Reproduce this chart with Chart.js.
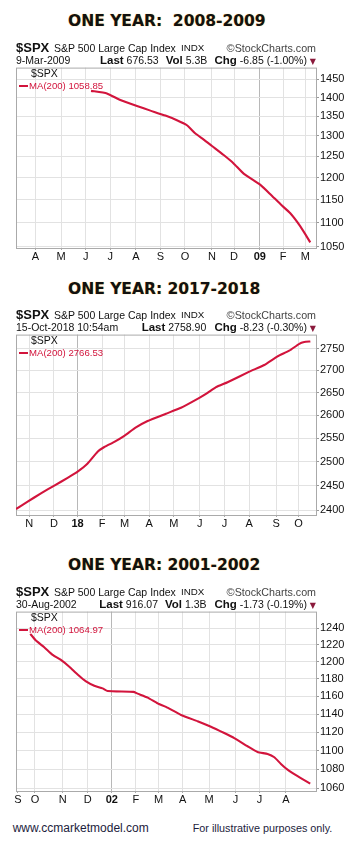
<!DOCTYPE html>
<html>
<head>
<meta charset="utf-8">
<script src="https://cdn.jsdelivr.net/npm/chart.js@4.4.1/dist/chart.umd.min.js"></script>
<style>
  html, body { margin:0; padding:0; background:#fff; }
  body { width:356px; height:849px; position:relative; overflow:hidden;
         font-family:"Liberation Sans", Arial, sans-serif; color:#111; }
  canvas { position:absolute; left:0; }
  .title { font-family:"DejaVu Sans", sans-serif; font-weight:bold; color:#111;
           text-shadow: 0 0 1px rgba(255,165,0,0.75); }
</style>
</head>
<body>
<canvas id="c1" width="356" height="205" style="top:60px"></canvas>
<canvas id="c2" width="356" height="205" style="top:327px"></canvas>
<canvas id="c3" width="356" height="204" style="top:604px"></canvas>
<script>
// ---------------- DATA ----------------
// Panel 1: 2008-2009 (x = trading days from 1-Apr-2008)
const p1Title = "ONE YEAR:  2008-2009";
const p1Date = "9-Mar-2009";
const p1Last = "676.53";
const p1Vol = "5.3B";
const p1Chg = "-6.85 (-1.00%)";
const p1Legend = "MA(200) 1058.85";
const p1MonthDays = [0, 22, 43, 64, 86, 107, 128, 151, 170, 192, 212, 231];
const p1MonthLabels = ["A", "M", "J", "J", "A", "S", "O", "N", "D", "09", "F", "M"];
const p1YTicks = [1050, 1100, 1150, 1200, 1250, 1300, 1350, 1400, 1450];
const p1Days = [47.6, 61.2, 72.7, 86.9, 98.4, 111.2, 121.1, 129.7, 136.9, 144, 151.1, 161.1, 169.6, 178.2, 192.5, 201, 209.6, 218.1, 226.7, 235.2];
const p1MA200 = [1418, 1411, 1393, 1377, 1365, 1352, 1340, 1327, 1306, 1291, 1275, 1253, 1233, 1209, 1183, 1162, 1140, 1120, 1092, 1059];

// Panel 2: 2017-2018 (x = trading days from 1-Nov-2017)
const p2Title = "ONE YEAR: 2017-2018";
const p2Date = "15-Oct-2018 10:54am";
const p2Last = "2758.90";
const p2Chg = "-8.23 (-0.30%)";
const p2Legend = "MA(200) 2766.53";
const p2MonthDays = [0, 21, 41, 62, 81, 102, 123, 145, 166, 187, 210, 229];
const p2MonthLabels = ["N", "D", "18", "F", "M", "A", "M", "J", "J", "A", "S", "O"];
const p2YTicks = [2400, 2450, 2500, 2550, 2600, 2650, 2700, 2750];
const p2Days = [-11.3, -1.4, 9.9, 21.3, 32.6, 41.1, 49.6, 58.1, 63.8, 72.3, 80.8, 90.7, 100.6, 116.2, 129, 144.6, 151.6, 158.8, 168.6, 187.1, 199.8, 211.1, 221.1, 229.6, 233.8, 239];
const p2MA200 = [2402, 2417, 2434, 2450, 2466, 2479, 2496, 2521, 2531, 2542, 2555, 2573, 2587, 2603, 2616, 2638, 2649, 2662, 2673, 2697, 2712, 2732, 2745, 2761, 2765, 2766.5];

// Panel 3: 2001-2002 (x = trading days from 1-Oct-2001)
const p3Title = "ONE YEAR: 2001-2002";
const p3Date = "30-Aug-2002";
const p3Last = "916.07";
const p3Vol = "1.3B";
const p3Chg = "-1.73 (-0.19%)";
const p3Legend = "MA(200) 1064.97";
const p3MonthDays = [-14.2, 0, 23, 44, 64, 84, 103, 123, 145, 167, 187, 209];
const p3MonthLabels = ["S", "O", "N", "D", "02", "F", "M", "A", "M", "J", "J", "A"];
const p3YTicks = [1060, 1080, 1100, 1120, 1140, 1160, 1180, 1200, 1220, 1240];
const p3Days = [-3.9, 0.8, 7.7, 14.7, 21.6, 28.6, 35.5, 42.5, 49.4, 56.3, 60.5, 82, 85.4, 93.8, 102.1, 109.1, 121.6, 135.4, 146.5, 157.6, 165.9, 177, 185.3, 193.7, 199.3, 204.8, 210.3, 218.7, 229.2];
const p3MA200 = [1233, 1225, 1217, 1208, 1202, 1194, 1185, 1177, 1172, 1169, 1166, 1165, 1163, 1158.5, 1152, 1148, 1139, 1132, 1126, 1119, 1113.5, 1104.6, 1098.5, 1096.3, 1092.8, 1085.7, 1079.7, 1072.8, 1065];

const footLeft = "www.ccmarketmodel.com";
const footRight = "For illustrative purposes only.";

// ---------------- STYLE ----------------
const FONT = '"Liberation Sans", Arial, sans-serif';
const LINE_COLOR = '#d2143c';
const GRID = '#e2e2e2';
const GRID_YEAR = '#b8b8b8';
const FRAME = '#aaaaaa';

function put(html, x, base, fs, opts) {
  opts = opts || {};
  const d = document.createElement('div');
  d.style.position = 'absolute';
  d.style.whiteSpace = 'pre';
  d.style.lineHeight = '1';
  d.style.fontSize = fs + 'px';
  d.style.top = (base - 0.846 * fs) + 'px';
  if (opts.right) d.style.right = (356 - x) + 'px'; else d.style.left = x + 'px';
  if (opts.cls) d.className = opts.cls;
  if (opts.style) d.style.cssText += opts.style;
  d.innerHTML = html;
  document.body.appendChild(d);
}
function esc(s){ return s.replace(/&/g,'&amp;').replace(/</g,'&lt;'); }

function header(P, title, titleBase, date, last, lastX, vol, volX, chg, legend) {
  put(esc(title), 68, titleBase, 15.5, {cls:'title'});
  put('$SPX', 16, P - 14.7, 13, {style:'font-weight:bold;'});
  put(esc('S&P 500 Large Cap Index'), 54, P - 15.3, 10.5);
  put('INDX', 181, P - 15.3, 9.8);
  put('<span style="font-size:11px">&copy;</span>StockCharts.com', 316, P - 15.3, 10.7, {right:true, style:'color:#444;'});
  put(esc(date), 16, P - 2.7, 10.5);
  put('<b style="font-size:11.5px">Last</b> ' + last, lastX, P - 2.7, 10.5);
  if (vol) put('<b style="font-size:11.5px">Vol</b> ' + vol, volX, P - 2.7, 10.5);
  put('<b style="font-size:11.5px">Chg</b> ' + chg + ' <span style="color:#8b1a3c;font-size:8px;font-family:DejaVu Sans">&#9660;</span>', 316, P - 2.7, 10.5, {right:true});
  // in-chart legend
  put('$SPX', 31, P + 9.9, 10.5);
  put(esc(legend), 29, P + 22.2, 9.6, {style:'color:' + LINE_COLOR + ';'});
  const dash = document.createElement('div');
  dash.style.cssText = 'position:absolute;left:19px;width:9px;height:2px;background:' + LINE_COLOR + ';top:' + (P + 17.8) + 'px';
  document.body.appendChild(dash);
}

const framePlugin = {
  id: 'frame',
  beforeDatasetsDraw(chart) {
    const a = chart.chartArea, c = chart.ctx;
    c.save();
    c.strokeStyle = FRAME; c.lineWidth = 1;
    c.strokeRect(a.left + 0.5, a.top + 0.5, a.right - a.left, a.bottom - a.top);
    c.restore();
  }
};

function makeChart(id, days, values, monthDays, monthLabels, yearIdx, yTicks, xMin, xMax, yMin, yMax, hideFirst) {
  return new Chart(document.getElementById(id), {
    type: 'line',
    data: { datasets: [{
      data: days.map((d, i) => ({ x: d, y: values[i] })),
      borderColor: LINE_COLOR, borderWidth: 2.1, pointRadius: 0,
      tension: 0.15, fill: false
    }]},
    options: {
      responsive: false, animation: false, devicePixelRatio: 1,
      layout: { padding: { left: 16, top: 7, right: 0, bottom: 0 } },
      plugins: { legend: { display: false }, tooltip: { enabled: false } },
      scales: {
        x: {
          type: 'linear', min: xMin, max: xMax,
          afterBuildTicks: s => { s.ticks = monthDays.map(v => ({ value: v })); },
          afterFit: s => { s.height = 17; },
          ticks: {
            autoSkip: false, maxRotation: 0, minRotation: 0, padding: 0, color: '#111',
            font: c => ({ family: FONT, size: 11, weight: c.index === yearIdx ? 'bold' : 'normal' }),
            callback: (v, i) => monthLabels[i]
          },
          grid: {
            color: c => (hideFirst && c.index === 0) ? 'rgba(0,0,0,0)' : (c.index === yearIdx ? GRID_YEAR : GRID),
            tickColor: '#aaa', tickLength: 2, drawTicks: true
          },
          border: { display: false }
        },
        y: {
          type: 'logarithmic', position: 'right', min: yMin, max: yMax,
          afterBuildTicks: s => { s.ticks = yTicks.map(v => ({ value: v })); },
          afterFit: s => { s.width = 40; },
          ticks: { padding: 1, color: '#111', font: { family: FONT, size: 11 }, callback: v => String(v) },
          grid: { color: GRID, tickColor: '#999', tickLength: 3 },
          border: { display: false }
        }
      }
    },
    plugins: [framePlugin]
  });
}

makeChart('c1', p1Days, p1MA200, p1MonthDays, p1MonthLabels, 9, p1YTicks, -16.6, 240.1, 1047.5, 1483, false);
makeChart('c2', p2Days, p2MA200, p2MonthDays, p2MonthLabels, 2, p2YTicks, -11.3, 243.8, 2390, 2782.5, false);
makeChart('c3', p3Days, p3MA200, p3MonthDays, p3MonthLabels, 4, p3YTicks, -15.8, 234, 1057.3, 1260.2, true);

header(67, p1Title, 26.7, p1Date, p1Last, 100, p1Vol, 165.7, p1Chg, p1Legend);
header(334, p2Title, 295, p2Date, p2Last, 141.7, null, 0, p2Chg, p2Legend);
header(611, p3Title, 571, p3Date, p3Last, 99.3, p3Vol, 165, p3Chg, p3Legend);

put(esc(footLeft), 12.7, 832.5, 12, {style:'color:#1c1c3c;'});
put(esc(footRight), 192.7, 832, 10.8, {style:'color:#1c1c3c;'});
</script>
</body>
</html>
